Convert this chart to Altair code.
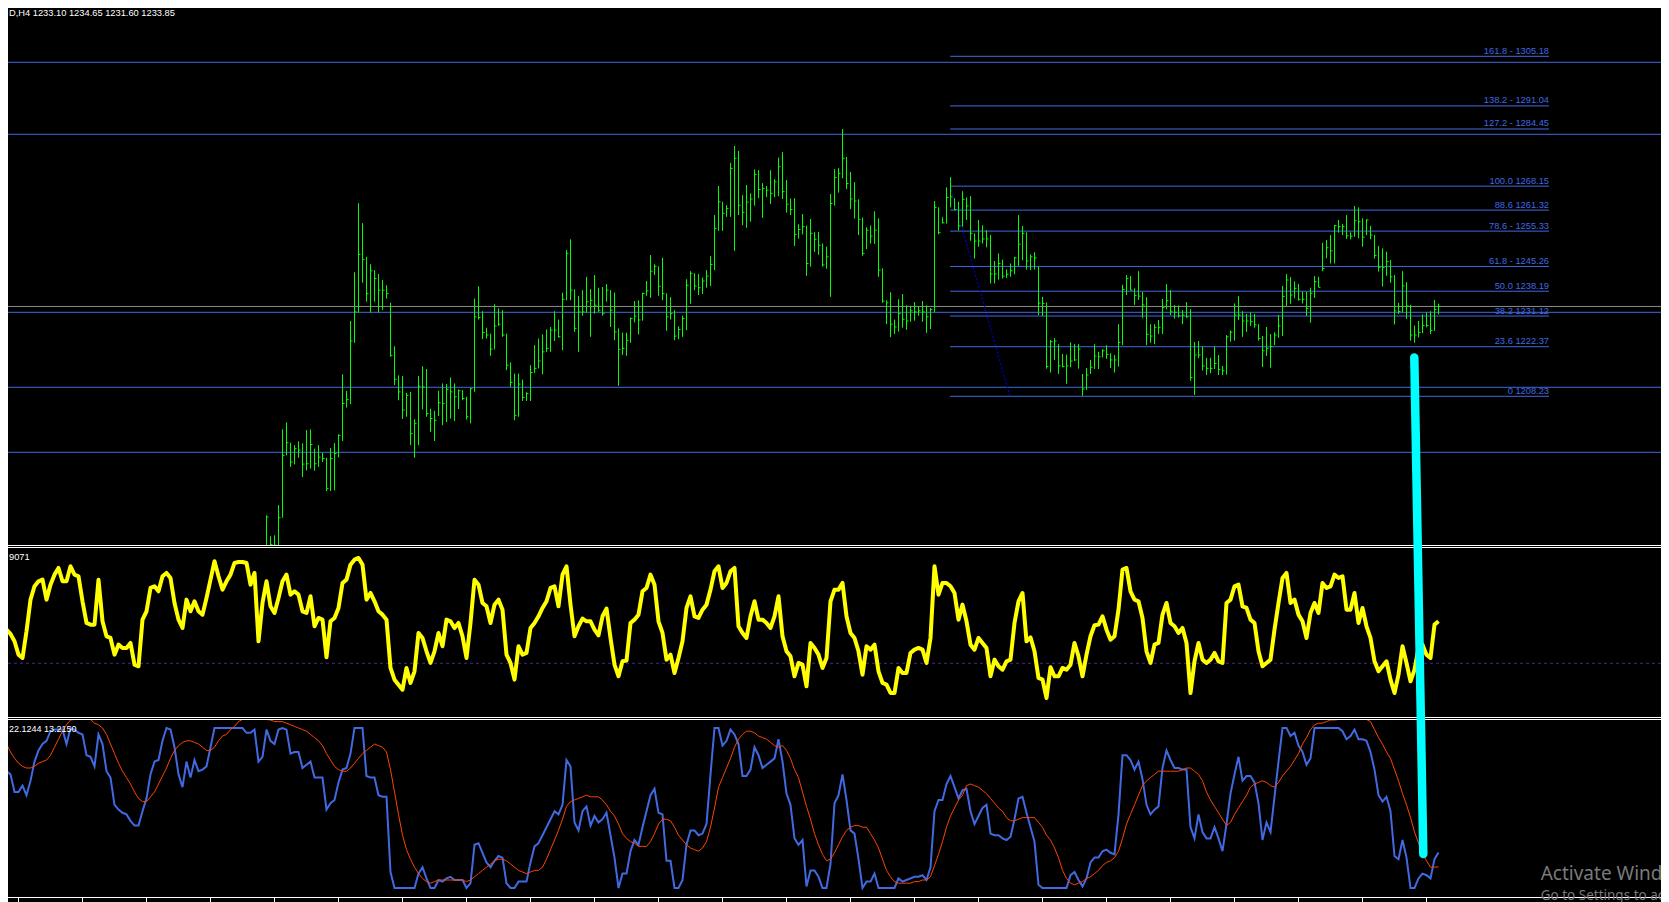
import altair as alt
import pandas as pd

# ---------------- price bars (H4), bar index 0..293 ----------------
bar_high = [
    1174.3, 1168.3, 1168.6, 1177.2, 1198.8, 1200.8, 1195.0, 1194.3, 1195.4, 1194.8,
    1198.6, 1198.8, 1193.3, 1194.3, 1192.1, 1190.7, 1193.5, 1194.9, 1197.4, 1214.5,
    1209.8, 1229.7, 1243.6, 1263.3, 1257.6, 1248.0, 1245.9, 1244.2, 1243.1, 1241.4,
    1239.9, 1234.9, 1222.5, 1214.2, 1214.0, 1209.2, 1209.5, 1201.7, 1214.0, 1216.8,
    1216.0, 1204.7, 1204.1, 1209.8, 1211.9, 1211.7, 1213.6, 1211.9, 1210.2, 1210.0,
    1208.1, 1210.6, 1236.1, 1239.6, 1232.5, 1227.8, 1226.1, 1234.5, 1233.3, 1232.8,
    1226.1, 1217.9, 1214.7, 1214.7, 1213.0, 1209.4, 1217.1, 1222.8, 1224.7, 1225.9,
    1227.3, 1228.0, 1232.5, 1230.1, 1237.8, 1249.9, 1253.0, 1238.7, 1236.8, 1238.5,
    1242.3, 1238.8, 1242.8, 1239.2, 1239.4, 1240.2, 1238.5, 1237.8, 1227.6, 1226.4,
    1226.4, 1230.7, 1235.4, 1235.6, 1237.8, 1241.1, 1248.5, 1245.9, 1245.3, 1247.7,
    1237.6, 1236.5, 1232.8, 1228.2, 1231.2, 1241.6, 1243.9, 1243.3, 1243.1, 1242.1,
    1244.2, 1248.2, 1259.9, 1268.2, 1263.7, 1262.7, 1274.8, 1279.6, 1278.2, 1265.6,
    1268.5, 1266.1, 1272.9, 1272.7, 1269.0, 1268.2, 1272.7, 1270.1, 1276.3, 1277.9,
    1269.9, 1264.6, 1264.7, 1257.3, 1260.2, 1256.9, 1258.8, 1255.0, 1255.1, 1251.8,
    1250.9, 1265.9, 1273.0, 1273.3, 1284.4, 1276.5, 1272.2, 1269.3, 1264.4, 1259.2,
    1256.4, 1256.9, 1261.0, 1259.0, 1244.7, 1235.6, 1237.9, 1230.1, 1235.9, 1237.4,
    1234.2, 1234.0, 1235.1, 1233.9, 1235.4, 1234.1, 1233.4, 1263.9, 1262.1, 1259.3,
    1267.8, 1270.7, 1264.7, 1263.7, 1266.7, 1264.9, 1265.3, 1254.7, 1258.5, 1257.0,
    1255.6, 1254.2, 1246.8, 1249.0, 1247.2, 1244.4, 1246.1, 1248.0, 1259.9, 1256.8,
    1255.0, 1248.7, 1249.3, 1245.2, 1236.6, 1235.0, 1224.3, 1224.8, 1223.1, 1220.3,
    1220.1, 1223.6, 1223.1, 1223.1, 1214.6, 1216.3, 1218.6, 1223.1, 1220.9, 1221.7,
    1222.8, 1220.5, 1220.0, 1228.8, 1240.0, 1242.8, 1242.5, 1239.0, 1243.9, 1238.0,
    1236.5, 1228.8, 1228.8, 1230.0, 1236.0, 1240.2, 1238.5, 1234.2, 1234.1, 1232.8,
    1235.1, 1233.1, 1223.7, 1224.0, 1222.4, 1219.2, 1219.2, 1222.4, 1220.0, 1216.9,
    1225.7, 1227.0, 1234.7, 1236.8, 1232.5, 1231.7, 1232.1, 1231.7, 1228.8, 1225.4,
    1228.0, 1226.0, 1226.5, 1231.4, 1239.7, 1243.1, 1242.2, 1241.0, 1240.3, 1238.1,
    1238.0, 1239.2, 1242.5, 1242.3, 1252.0, 1252.8, 1254.2, 1257.1, 1258.5, 1257.4,
    1259.9, 1255.0, 1262.5, 1262.1, 1259.0, 1258.7, 1256.8, 1254.2, 1251.1, 1250.4,
    1249.5, 1247.1, 1242.8, 1234.9, 1243.9, 1240.8, 1234.3, 1228.4, 1229.7, 1231.6,
    1232.1, 1232.5, 1235.7, 1234.65,
]
bar_low = [
    1160.0, 1160.0, 1160.0, 1160.0, 1173.6, 1191.4, 1188.1, 1188.8, 1190.7, 1185.2,
    1187.1, 1187.6, 1187.0, 1188.1, 1189.5, 1181.2, 1181.2, 1181.4, 1190.8, 1195.5,
    1205.0, 1206.0, 1223.5, 1232.1, 1240.6, 1235.2, 1232.1, 1235.2, 1232.1, 1232.8,
    1236.1, 1219.5, 1211.4, 1207.1, 1201.8, 1202.4, 1194.3, 1190.7, 1194.3, 1204.5,
    1202.4, 1198.1, 1195.5, 1202.6, 1200.0, 1200.9, 1201.9, 1201.2, 1204.6, 1207.1,
    1201.6, 1200.5, 1209.5, 1230.1, 1224.5, 1224.7, 1219.8, 1221.6, 1228.3, 1225.2,
    1215.7, 1210.9, 1201.4, 1202.4, 1206.9, 1206.9, 1206.9, 1214.9, 1216.2, 1214.5,
    1220.9, 1220.9, 1224.0, 1225.0, 1221.4, 1235.6, 1235.6, 1226.6, 1220.9, 1231.2,
    1232.1, 1225.2, 1231.8, 1232.3, 1231.2, 1235.2, 1228.0, 1224.2, 1211.2, 1220.0,
    1219.8, 1223.5, 1229.3, 1225.9, 1229.8, 1236.9, 1236.3, 1242.8, 1236.9, 1235.6,
    1226.9, 1230.1, 1224.2, 1224.5, 1225.2, 1227.1, 1234.6, 1238.5, 1237.1, 1237.4,
    1239.2, 1239.7, 1244.2, 1255.4, 1255.4, 1259.4, 1259.4, 1249.7, 1259.9, 1257.0,
    1256.3, 1258.0, 1262.6, 1264.7, 1259.1, 1265.0, 1263.1, 1265.0, 1265.3, 1264.5,
    1260.6, 1259.9, 1251.1, 1253.2, 1254.4, 1242.6, 1245.2, 1249.4, 1248.6, 1245.2,
    1244.6, 1236.6, 1262.6, 1266.3, 1270.4, 1267.3, 1261.6, 1258.9, 1254.2, 1248.3,
    1250.2, 1251.8, 1251.7, 1242.3, 1234.9, 1228.8, 1225.1, 1226.0, 1226.7, 1227.8,
    1227.2, 1229.5, 1229.8, 1231.2, 1229.5, 1226.3, 1227.4, 1232.2, 1254.4, 1257.5,
    1257.5, 1262.1, 1261.3, 1255.5, 1256.6, 1258.5, 1252.6, 1247.5, 1250.9, 1251.8,
    1250.7, 1240.4, 1240.4, 1241.5, 1241.8, 1242.0, 1242.3, 1243.0, 1245.4, 1247.0,
    1244.4, 1244.2, 1244.4, 1231.4, 1231.1, 1216.1, 1215.0, 1218.6, 1214.6, 1216.5,
    1211.8, 1216.5, 1218.3, 1216.1, 1208.4, 1210.0, 1214.6, 1216.0, 1216.0, 1219.3,
    1218.9, 1216.3, 1215.0, 1216.7, 1222.8, 1237.1, 1238.5, 1234.3, 1235.7, 1230.6,
    1222.8, 1223.5, 1223.1, 1226.0, 1226.0, 1233.0, 1231.4, 1230.4, 1230.7, 1228.8,
    1230.6, 1212.7, 1208.6, 1219.1, 1215.6, 1214.3, 1214.8, 1216.0, 1214.3, 1214.3,
    1214.4, 1223.8, 1224.1, 1230.0, 1225.2, 1226.6, 1228.3, 1227.8, 1224.1, 1216.6,
    1219.7, 1216.4, 1222.8, 1224.9, 1225.4, 1234.0, 1234.6, 1236.2, 1235.5, 1234.7,
    1231.1, 1229.2, 1236.3, 1239.3, 1243.9, 1247.6, 1246.1, 1246.1, 1254.9, 1254.2,
    1253.1, 1253.0, 1253.7, 1253.3, 1250.9, 1254.2, 1253.0, 1247.5, 1243.8, 1239.5,
    1242.6, 1240.6, 1228.7, 1231.7, 1232.1, 1230.3, 1224.1, 1223.5, 1225.0, 1226.2,
    1227.9, 1226.0, 1226.9, 1231.60,
]
bar_close = [
    1173.8, 1166.0, 1165.8, 1173.6, 1191.4, 1195.0, 1189.5, 1193.3, 1192.9, 1188.9,
    1189.0, 1194.5, 1189.0, 1190.9, 1190.5, 1181.9, 1190.5, 1191.9, 1197.1, 1206.2,
    1207.3, 1224.0, 1232.3, 1248.7, 1247.2, 1237.5, 1244.0, 1241.8, 1238.5, 1238.5,
    1237.5, 1219.9, 1213.1, 1209.5, 1204.3, 1208.5, 1197.6, 1200.5, 1211.1, 1210.9,
    1203.3, 1201.9, 1201.4, 1206.4, 1206.2, 1210.2, 1209.5, 1208.1, 1209.8, 1207.6,
    1202.4, 1210.4, 1230.9, 1230.7, 1226.4, 1225.7, 1221.7, 1228.3, 1228.8, 1225.7,
    1217.1, 1212.2, 1202.8, 1211.7, 1207.9, 1209.0, 1215.0, 1216.2, 1218.3, 1220.9,
    1221.9, 1227.1, 1227.1, 1225.2, 1235.9, 1249.0, 1238.5, 1227.6, 1232.3, 1232.3,
    1235.2, 1235.6, 1234.2, 1232.8, 1231.8, 1238.5, 1232.8, 1226.6, 1221.6, 1221.9,
    1224.2, 1230.4, 1231.1, 1230.0, 1237.5, 1238.3, 1243.9, 1245.3, 1239.6, 1237.5,
    1230.9, 1231.8, 1225.4, 1227.3, 1230.4, 1239.9, 1243.3, 1239.7, 1239.2, 1241.1,
    1242.5, 1245.8, 1256.1, 1263.7, 1260.4, 1261.8, 1273.2, 1276.1, 1262.7, 1260.7,
    1263.6, 1264.5, 1271.5, 1267.2, 1267.5, 1267.0, 1266.1, 1269.4, 1273.7, 1266.6,
    1263.0, 1261.5, 1254.4, 1255.8, 1256.6, 1246.1, 1254.7, 1253.0, 1251.3, 1245.7,
    1248.0, 1263.2, 1270.6, 1271.8, 1276.1, 1268.9, 1264.5, 1263.9, 1258.7, 1249.0,
    1255.6, 1253.9, 1255.6, 1244.2, 1235.4, 1234.9, 1228.8, 1228.0, 1231.8, 1230.2,
    1229.7, 1232.6, 1232.3, 1232.6, 1232.3, 1230.9, 1233.0, 1262.1, 1254.9, 1257.7,
    1264.9, 1265.1, 1261.5, 1256.8, 1264.4, 1262.5, 1254.7, 1252.5, 1252.5, 1253.1,
    1253.1, 1243.1, 1243.1, 1246.1, 1242.5, 1243.0, 1244.0, 1247.7, 1251.6, 1254.7,
    1246.8, 1248.0, 1247.7, 1234.8, 1234.7, 1216.7, 1223.8, 1224.0, 1216.9, 1216.7,
    1216.9, 1218.3, 1218.6, 1221.7, 1210.3, 1214.3, 1216.5, 1219.7, 1219.5, 1221.2,
    1220.2, 1218.6, 1218.6, 1223.6, 1238.7, 1241.8, 1238.5, 1237.0, 1236.8, 1234.3,
    1225.9, 1225.4, 1227.9, 1227.9, 1233.5, 1235.5, 1232.5, 1232.2, 1231.2, 1231.4,
    1230.9, 1213.6, 1220.0, 1220.0, 1216.9, 1216.2, 1216.2, 1217.6, 1215.9, 1215.5,
    1225.2, 1226.5, 1231.4, 1231.4, 1229.7, 1229.7, 1229.5, 1228.6, 1224.7, 1221.2,
    1221.9, 1222.4, 1225.7, 1228.3, 1236.7, 1241.4, 1237.1, 1239.0, 1235.9, 1235.9,
    1233.3, 1237.6, 1240.9, 1239.3, 1244.7, 1250.6, 1249.7, 1256.9, 1256.6, 1256.6,
    1254.0, 1253.9, 1258.3, 1258.0, 1253.6, 1258.5, 1254.2, 1248.4, 1245.0, 1244.9,
    1246.6, 1242.3, 1232.6, 1232.4, 1239.7, 1234.0, 1225.7, 1225.7, 1226.4, 1228.4,
    1228.4, 1227.0, 1233.0, 1233.85,
]

# ---------------- indicators, bar index -67..293 ----------------
ind_first_bar = -67
osc_values = [
    151, 136, 101, 88, 66, 26, 16, 96, 191, 231,
    246, 251, 191, 236, 266, 286, 246, 246, 291, 266,
    261, 186, 121, 116, 116, 251, 126, 81, 76, 26,
    56, 46, 46, 61, -4, -9, 131, 156, 226, 231,
    216, 261, 271, 256, 181, 131, 106, 191, 156, 186,
    156, 146, 196, 251, 306, 261, 221, 246, 266, 301,
    304, 304, 301, 236, 271, 66, 181, 246, 171, 151,
    196, 246, 266, 206, 216, 206, 156, 151, 201, 111,
    136, 131, 18, 126, 136, 166, 241, 251, 296, 311,
    316, 296, 191, 211, 186, 156, 146, 131, -14, -49,
    -64, -79, -14, -59, -24, 91, 76, 36, 1, 36,
    91, 51, 131, 126, 106, 121, 81, 16, 121, 251,
    236, 181, 171, 121, 176, 191, 161, 26, 1, -49,
    51, 26, 31, 106, 121, 141, 166, 186, 226, 231,
    171, 266, 291, 176, 81, 111, 134, 126, 126, 101,
    84, 141, 164, 76, -4, -39, 6, 8, 121, 131,
    146, 216, 226, 266, 236, 126, 91, 11, 26, -29,
    16, 66, 166, 201, 141, 136, 161, 176, 221, 276,
    291, 226, 241, 276, 286, 111, 91, 76, 141, 186,
    131, 131, 121, 106, 141, 201, 81, 36, 21, -39,
    1, -4, -69, 61, 46, 26, -14, 16, 186, 221,
    221, 241, 141, 91, 76, 36, -34, 51, 41, 56,
    -24, -59, -64, -89, -89, -14, -29, -29, 31, 41,
    46, 41, 1, 76, 291, 206, 241, 241, 231, 211,
    131, 176, 126, 56, 41, 76, 61, 46, -39, 11,
    -9, -19, 6, 11, 121, 186, 211, 66, 78, 36,
    -44, -49, -104, -12, -39, -39, -14, -19, -4, 61,
    21, -39, 26, 81, 114, 116, 141, 101, 71, 81,
    161, 281, 286, 216, 191, 186, 136, 36, 1, 56,
    61, 146, 181, 121, 111, 91, 106, 61, -89, 6,
    61, 11, 1, 11, 31, 6, 1, 181, 191, 231,
    236, 171, 166, 131, 121, 36, -9, 1, 11, 101,
    181, 256, 271, 181, 191, 146, 126, 76, 151, 181,
    151, 241, 226, 231, 266, 256, 261, 161, 161, 211,
    121, 166, 111, 76, 6, -24, -9, 6, -49, -89,
    -34, 51, 1, -54, -19, 46, 56, 26, 16, 116, 126,
]
stoch_main = [
    79, 79, 73, 71, 60, 60, 64, 58, 67, 79,
    86, 90, 92, 98, 99, 99, 99, 90, 100, 99,
    97, 96, 83, 82, 76, 96, 90, 73, 69, 52,
    49, 47, 46, 42, 39, 39, 48, 56, 71, 79,
    80, 92, 100, 99, 88, 71, 63, 79, 69, 80,
    73, 74, 76, 88, 100, 100, 100, 100, 100, 100,
    100, 100, 97, 97, 99, 79, 82, 99, 92, 90,
    99, 100, 99, 84, 85, 85, 75, 77, 79, 69,
    69, 69, 49, 53, 55, 66, 74, 75, 84, 100,
    100, 100, 70, 69, 69, 58, 57, 57, 10, 0,
    0, 0, 0, 0, 0, 9, 13, 6, 0, 0,
    5, 4, 6, 7, 5, 5, 5, 0, 3, 27,
    28, 22, 16, 13, 17, 20, 19, 3, 0, 0,
    4, 4, 4, 16, 26, 28, 33, 38, 43, 48,
    46, 52, 80, 76, 41, 36, 48, 51, 39, 45,
    41, 43, 47, 33, 19, 0, 9, 9, 23, 30,
    27, 38, 48, 58, 62, 47, 46, 17, 17, 0,
    0, 5, 27, 36, 36, 33, 34, 40, 71, 100,
    100, 89, 92, 99, 96, 90, 70, 70, 74, 88,
    83, 75, 77, 79, 81, 93, 79, 59, 52, 31,
    27, 30, 1, 11, 11, 7, 0, 0, 15, 53,
    58, 71, 55, 36, 34, 18, 0, 4, 4, 9,
    0, 0, 0, 0, 0, 6, 4, 5, 6, 7,
    7, 8, 5, 13, 48, 55, 55, 65, 70, 63,
    56, 61, 62, 48, 40, 45, 50, 52, 34, 33,
    33, 31, 30, 32, 43, 56, 57, 47, 38, 29,
    2, 0, 0, 0, 0, 0, 0, 0, 8, 10,
    5, 1, 6, 16, 19, 19, 23, 24, 22, 21,
    46, 83, 83, 80, 74, 79, 68, 52, 46, 49,
    51, 75, 86, 80, 75, 75, 74, 74, 38, 31,
    46, 35, 31, 31, 38, 31, 23, 40, 59, 71,
    82, 67, 70, 70, 66, 53, 30, 41, 35, 57,
    79, 100, 100, 95, 97, 89, 85, 77, 81, 100,
    100, 100, 100, 100, 100, 100, 98, 93, 95, 99,
    93, 93, 92, 85, 74, 58, 54, 57, 48, 20,
    18, 30, 19, 0, 0, 6, 9, 8, 6, 18, 22.1244,
]
stoch_signal = [
    94, 93, 90, 85, 81, 78, 76, 75, 75, 76,
    78, 79, 80, 83, 88, 93, 98, 102, 105, 108,
    110, 110, 109, 106, 103, 102, 100, 96, 90, 84,
    78, 73, 69, 65, 60, 56, 54, 54, 57, 60,
    65, 70, 75, 81, 86, 89, 91, 92, 92, 91,
    90, 88, 86, 86, 88, 92, 95, 96, 99, 101,
    104, 107, 109, 110, 110, 110, 109, 107, 105, 104,
    104, 104, 103, 102, 101, 100, 99, 98, 96, 94,
    92, 89, 84, 80, 76, 74, 73, 73, 75, 78,
    81, 84, 86, 88, 90, 89, 88, 85, 74, 60,
    46, 33, 24, 18, 13, 9, 6, 4, 3, 4,
    5, 5, 5, 5, 5, 5, 5, 4, 5, 7,
    9, 11, 13, 15, 17, 18, 18, 17, 15, 13,
    11, 10, 9, 10, 11, 11, 13, 18, 24, 30,
    36, 43, 51, 54, 55, 56, 57, 58, 57, 57,
    57, 55, 52, 48, 45, 40, 34, 31, 29, 28,
    26, 26, 26, 29, 34, 40, 43, 43, 42, 38,
    33, 30, 27, 25, 24, 23, 25, 29, 38, 50,
    63, 69, 75, 81, 88, 93, 96, 98, 98, 97,
    95, 94, 93, 91, 89, 88, 89, 86, 81, 74,
    69, 60, 51, 43, 34, 27, 21, 17, 18, 22,
    27, 32, 36, 38, 39, 39, 38, 38, 34, 30,
    25, 18, 11, 7, 4, 3, 3, 3, 3, 4,
    4, 5, 5, 7, 14, 21, 29, 38, 45, 50,
    55, 58, 64, 65, 64, 63, 61, 59, 56, 53,
    50, 48, 44, 42, 42, 43, 44, 44, 44, 44,
    41, 38, 33, 30, 25, 19, 11, 6, 3, 2,
    3, 4, 6, 7, 9, 11, 14, 16, 17, 19,
    23, 31, 40, 46, 52, 58, 64, 67, 69, 71,
    73, 73, 73, 73, 73, 73, 74, 75, 75, 73,
    71, 67, 60, 55, 51, 47, 43, 39, 41, 46,
    50, 54, 58, 63, 65, 66, 67, 66, 64, 63,
    66, 70, 73, 76, 80, 84, 90, 94, 99, 102,
    103, 103, 104, 105, 105, 106, 107, 109, 110, 110,
    110, 109, 107, 104, 99, 94, 90, 85, 81, 74,
    67, 59, 52, 44, 35, 28, 22, 17, 13, 13, 13.215,
]

# ---------------- annotations ----------------
fib_labels = ["161.8 -  1305.18", "138.2 - 1291.04", "127.2 - 1284.45", "100.0 1268.15",
              "88.6 1261.32", "78.6 - 1255.33", "61.8 - 1245.26", "50.0 1238.19",
              "38.2 1231.12", "23.6 1222.37", "0 1208.23"]
fib_prices = [1305.18, 1291.04, 1284.45, 1268.15, 1261.32, 1255.33, 1245.26,
              1238.19, 1231.12, 1222.37, 1208.23]
fib_bar_start = 170.9
fib_bar_end = 320.625
level_prices = [1303.47, 1282.94, 1232.18, 1210.80, 1192.26]
bid_price = 1233.85
trend_bars = [170.9, 185.85]
trend_prices = [1268.15, 1208.23]
cyan_bars = [286.95, 289.2]
cyan_prices = [1219.29, 1077.72]
time_tick_bars = list(range(-62, 291, 16))
header_text = "D,H4  1233.10 1234.65 1231.60 1233.85"
osc_label = "9071"
stoch_label = "22.1244 13.2150"
watermark_1 = "Activate Windows"
watermark_2 = "Go to Settings to activate Windows."

# ---------------- layout (one view, three stacked y-scales) ----------------
W, H = 1653, 894
FONT = "Liberation Sans"
BLUE = "#4169E1"

xs = alt.Scale(domain=[-64.625, -64.625 + W / 4.0], nice=False, zero=False)
# price pane: plot rows 0..538
ys1 = alt.Scale(domain=[1165.545, 1318.952], range=[538, 0], nice=False, zero=False, clamp=True)
ys1_free = alt.Scale(domain=[1165.545, 1318.952], range=[538, 0], nice=False, zero=False)
# oscillator pane: plot rows 538..711
ys2 = alt.Scale(domain=[-167.1, 351.9], range=[711, 538], nice=False, zero=False)
# stochastic pane: plot rows 711.5..894
ys3 = alt.Scale(domain=[-8.75, 105.3125], range=[894, 711.5], nice=False, zero=False, clamp=True)


def X(field):
    return alt.X(field, type="quantitative", scale=xs, axis=None)


def Y(field, sc):
    return alt.Y(field, type="quantitative", scale=sc, axis=None)


bars = pd.DataFrame({"k": list(range(len(bar_high))), "high": bar_high,
                     "low": bar_low, "close": bar_close})
ind = pd.DataFrame({"k": list(range(ind_first_bar, ind_first_bar + len(osc_values))),
                    "osc": osc_values, "main": stoch_main, "signal": stoch_signal})
one = pd.DataFrame({"a": [0]})


def sep(y):
    return alt.Chart(one).mark_rule(color="#ffffff", strokeWidth=1).encode(
        x=alt.value(0), x2=alt.value(W), y=alt.value(y))


def label(text, x, y, size=9.3, color="#ffffff", font=FONT):
    return alt.Chart(pd.DataFrame({"t": [text]})).mark_text(
        align="left", baseline="alphabetic", color=color, font=font,
        fontSize=size).encode(x=alt.value(x), y=alt.value(y), text="t:N")


# ---- price pane ----
levels = alt.Chart(pd.DataFrame({"price": level_prices})).mark_rule(
    color=BLUE, strokeWidth=1).encode(y=Y("price", ys1))
bid = alt.Chart(pd.DataFrame({"price": [bid_price]})).mark_rule(
    color="#8c8c8c", strokeWidth=1).encode(y=Y("price", ys1))
fib_df = pd.DataFrame({"label": fib_labels, "price": fib_prices,
                       "x0": [fib_bar_start] * len(fib_prices),
                       "x1": [fib_bar_end] * len(fib_prices)})
fib_lines = alt.Chart(fib_df).mark_rule(color=BLUE, strokeWidth=1).encode(
    x=X("x0"), x2="x1:Q", y=Y("price", ys1))
fib_text = alt.Chart(fib_df).mark_text(
    align="right", baseline="alphabetic", dy=-2.5, font=FONT, fontSize=9.3,
    color=BLUE).encode(x=X("x1"), y=Y("price", ys1), text="label:N")
trend = alt.Chart(pd.DataFrame({"k": trend_bars, "price": trend_prices})).mark_line(
    color="#0000ff", strokeWidth=1, strokeDash=[2, 2]).encode(x=X("k"), y=Y("price", ys1))
bar_rules = alt.Chart(bars).mark_rule(color="#00ff00", strokeWidth=1).encode(
    x=X("k"), y=Y("high", ys1), y2="low:Q")
close_ticks = alt.Chart(bars).mark_rule(
    color="#00ff00", strokeWidth=1, x2Offset=2).encode(
    x=X("k"), x2="k:Q", y=Y("close", ys1))

# ---- oscillator pane ----
zero = alt.Chart(pd.DataFrame({"v": [0]})).mark_rule(
    color="#4b2382", strokeWidth=1, strokeDash=[3, 3]).encode(y=Y("v", ys2))
yellow = alt.Chart(ind).mark_line(
    color="#ffff00", strokeWidth=4, strokeJoin="round").encode(
    x=X("k"), y=Y("osc", ys2))

# ---- stochastic pane ----
blue = alt.Chart(ind).mark_line(color=BLUE, strokeWidth=2).encode(
    x=X("k"), y=Y("main", ys3))
red = alt.Chart(ind).mark_line(color="#ff4500", strokeWidth=1).encode(
    x=X("k"), y=Y("signal", ys3))
ticks = alt.Chart(pd.DataFrame({"k": time_tick_bars})).mark_rule(
    color="#ffffff", strokeWidth=1).encode(x=X("k"), y=alt.value(890), y2=alt.value(894))

# ---- hand-drawn cyan line (price coordinates, runs through all panes) ----
cyan = alt.Chart(pd.DataFrame({"k": cyan_bars, "v": cyan_prices})).mark_line(
    color="#00ffff", strokeWidth=8.5, strokeCap="round").encode(
    x=X("k"), y=Y("v", ys1_free))

chart = alt.layer(
    levels, bid, fib_lines, fib_text, trend, bar_rules, close_ticks,
    zero, yellow, blue, red,
    sep(537.5), sep(539.5), sep(709.5), sep(711.5), sep(889.5), ticks,
    label(header_text, 1, 8), label(osc_label, 1, 551.7), label(stoch_label, 1, 724, size=9),
    cyan,
    label(watermark_1, 1532.7, 872, size=19, color="#7a7a7a", font="Noto Sans"),
    label(watermark_2, 1532.7, 892, size=13.5, color="#7a7a7a", font="Noto Sans"),
).resolve_scale(y="independent").properties(
    width=W, height=H, padding=0, background="#000000",
    autosize=alt.AutoSizeParams(type="none"),
).configure_view(strokeWidth=0)

chart.save("out.html", embed_options={"renderer": "svg", "actions": False})
